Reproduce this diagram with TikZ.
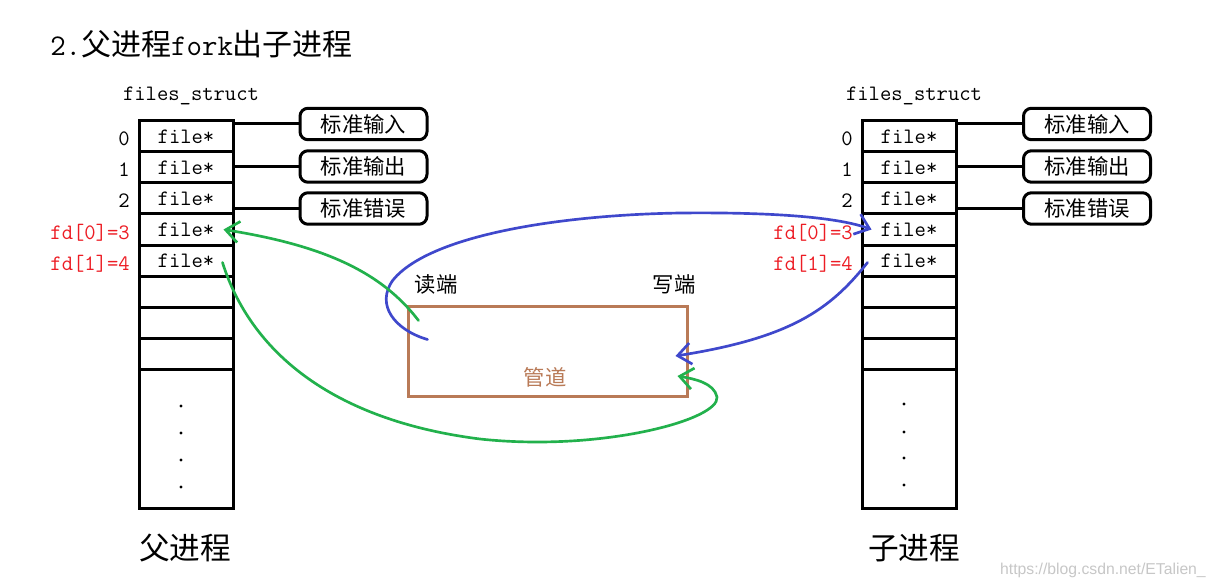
\documentclass[tikz,border=0pt]{standalone}
\usepackage{fontspec}
\newfontfamily\cjk{Noto Sans CJK SC}
\newfontfamily\wmfont{Liberation Sans}
\usetikzlibrary{arrows.meta,calc}
\definecolor{pbrown}{RGB}{185,122,87}
\definecolor{pblue}{RGB}{63,72,204}
\definecolor{pgreen}{RGB}{34,177,76}
\definecolor{pred}{RGB}{237,28,36}
\begin{document}
\begin{tikzpicture}[x=0.75pt,y=-0.75pt,
  cell/.style={draw,line width=2.25pt,minimum width=70.5pt,minimum height=23.25pt,inner sep=0pt,font=\ttfamily\fontsize{16.5}{18}\selectfont},
  bigcell/.style={cell,minimum height=104.25pt},
  stdbox/.style={draw,line width=2.25pt,rounded corners=6pt,minimum width=95.25pt,minimum height=23.6pt,inner sep=0pt,font=\cjk\fontsize{16}{18}\selectfont},
  idx/.style={anchor=base east,inner sep=0pt,font=\ttfamily\fontsize{16.5}{18}\selectfont},
  fdlbl/.style={idx,text=pred},
  monolbl/.style={inner sep=0pt,font=\ttfamily\fontsize{16.5}{18}\selectfont},
  cjklbl/.style={inner sep=0pt,font=\cjk\fontsize{16}{18}\selectfont},
  biglbl/.style={inner sep=0pt,font=\cjk\fontsize{23}{25}\selectfont},
  link/.style={line width=2.25pt},
  arrowhd/.style={-{Straight Barb[length=10pt,width=16pt]}},
  blueline/.style={draw=pblue,line width=2pt,line cap=round,arrowhd},
  greenline/.style={draw=pgreen,line width=2pt,line cap=round,arrowhd}
]
\fill[white] (0,0) rectangle (1214,588);
\useasboundingbox (0,0) rectangle (1214,588);

% title
\node[anchor=west,inner sep=0pt] (title) at (50,44)
  {\fontsize{22.5}{24}\selectfont\ttfamily 2.\cjk 父进程\ttfamily fork\cjk 出子进程};

% ---------- parent table ----------
\node[monolbl] (Lfs) at (191,96) {files\_struct};
\node[cell] (L0) at (186,136.5) {file*};
\node[cell] (L1) at (186,167.5) {file*};
\node[cell] (L2) at (186,198.5) {file*};
\node[cell] (L3) at (186,229.5) {file*};
\node[cell] (L4) at (186,260.5) {file*};
\node[cell] (L5) at (186,291.5) {};
\node[cell] (L6) at (186,322.5) {};
\node[cell] (L7) at (186,353.5) {};
\node[bigcell] (L8) at (186,438.5) {};
\foreach \y in {406,433,460,487} \fill (181,\y) circle (1.6);

\node[idx] (L0i) at (130,146) {0};
\node[idx] (L1i) at (130,177) {1};
\node[idx] (L2i) at (130,208) {2};
\node[fdlbl] (L3i) at (130,239.5) {fd[0]=3};
\node[fdlbl] (L4i) at (130,270.5) {fd[1]=4};

\node[stdbox] (Lin) at (363.5,124) {标准输入};
\node[stdbox] (Lout) at (363.5,166.5) {标准输出};
\node[stdbox] (Lerr) at (363.5,208.5) {标准错误};
\draw[link] (Lin.west) -- (Lin.west -| L0.east);
\draw[link] (Lout.west) -- (Lout.west -| L1.east);
\draw[link] (Lerr.west) -- (Lerr.west -| L2.east);

\node[biglbl] (Lname) at (185,548) {父进程};

% ---------- child table ----------
\node[monolbl] (Rfs) at (914,96) {files\_struct};
\node[cell] (R0) at (909,136.5) {file*};
\node[cell] (R1) at (909,167.5) {file*};
\node[cell] (R2) at (909,198.5) {file*};
\node[cell] (R3) at (909,229.5) {file*};
\node[cell] (R4) at (909,260.5) {file*};
\node[cell] (R5) at (909,291.5) {};
\node[cell] (R6) at (909,322.5) {};
\node[cell] (R7) at (909,353.5) {};
\node[bigcell] (R8) at (909,438.5) {};
\foreach \y in {404,432,458,485} \fill (904,\y) circle (1.6);

\node[idx] (R0i) at (853,146) {0};
\node[idx] (R1i) at (853,177) {1};
\node[idx] (R2i) at (853,208) {2};
\node[fdlbl] (R3i) at (853,239.5) {fd[0]=3};
\node[fdlbl] (R4i) at (853,270.5) {fd[1]=4};

\node[stdbox] (Rin) at (1087,124) {标准输入};
\node[stdbox] (Rout) at (1087,166.5) {标准输出};
\node[stdbox] (Rerr) at (1087,208.5) {标准错误};
\draw[link] (Rin.west) -- (Rin.west -| R0.east);
\draw[link] (Rout.west) -- (Rout.west -| R1.east);
\draw[link] (Rerr.west) -- (Rerr.west -| R2.east);

\node[biglbl] (Rname) at (914,548) {子进程};

% ---------- pipe ----------
\node[draw=pbrown,line width=2.25pt,minimum width=209.25pt,minimum height=67.5pt,inner sep=0pt] (pipe) at (547.5,351) {};
\node[cjklbl,text=pbrown] (pipelbl) at (545,377) {管道};
\node[cjklbl] (rdlbl) at (436,284) {读端};
\node[cjklbl] (wrlbl) at (674,284) {写端};

% ---------- connector ends ----------
\coordinate (rdA) at ($(pipe.north west)+(21,35)$);
\coordinate (rdB) at ($(pipe.north west)+(12,16)$);
\coordinate (wrA) at ($(pipe.east)+(-13,5)$);
\coordinate (wrB) at ($(pipe.east)+(-11,25)$);
\coordinate (gtip) at ($(L3.east)+(-11,0)$);
\coordinate (gsrc) at ($(L4.east)+(-12,2)$);
\coordinate (btip) at ($(R3.west)+(11,0)$);
\coordinate (bsrc) at ($(R4.west)+(7,2)$);

% ---------- curves ----------
\draw[blueline] (rdA) .. controls (395,330) and (375,305) .. (393,280)
  .. controls (430,235) and (560,215) .. (680,213)
  .. controls (780,212) and (840,218) .. (btip);
\draw[blueline] (bsrc) .. controls (830,310) and (790,338) .. (wrA);
\draw[greenline] (rdB) .. controls (380,270) and (320,245) .. (gtip);
\draw[greenline] (gsrc) .. controls (250,350) and (330,420) .. (480,439)
  .. controls (600,452) and (720,420) .. (717,397)
  .. controls (714,383) and (695,379) .. (wrB);

% watermark
\node[anchor=east,inner sep=0pt,text=black!22,font=\wmfont\fontsize{11.8}{13}\selectfont] (wm) at (1206,570) {https://blog.csdn.net/ETalien\_};
\end{tikzpicture}
\end{document}
